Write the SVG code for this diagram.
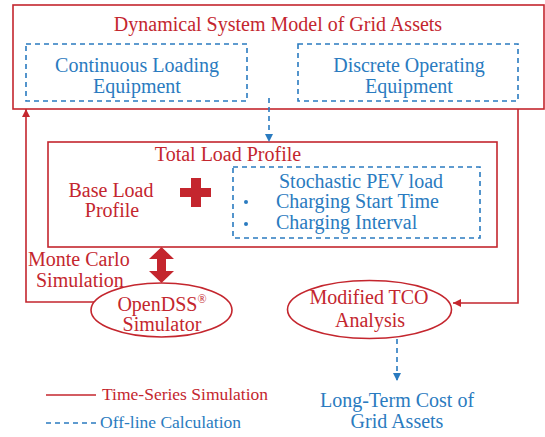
<svg xmlns="http://www.w3.org/2000/svg" width="545" height="437" viewBox="0 0 545 437">
<defs>
<style>
text{font-family:"Liberation Serif","Times New Roman",serif;font-size:20px}
.r{fill:#C4262E}
.b{fill:#2A7BC0}
.m{text-anchor:middle}
.rbox{fill:none;stroke:#C4262E;stroke-width:1.6}
.bbox{fill:none;stroke:#2A7BC0;stroke-width:1.6;stroke-dasharray:5,4}
.rline{fill:none;stroke:#C4262E;stroke-width:1.6}
.bline{fill:none;stroke:#2A7BC0;stroke-width:1.6;stroke-dasharray:5,4}
.leg{font-size:17.5px}
</style>
<marker id="ar" viewBox="0 0 10 10" refX="10" refY="5" markerWidth="8" markerHeight="8" markerUnits="userSpaceOnUse" orient="auto"><path d="M0,0 L10,5 L0,10 z" fill="#C4262E"/></marker>
<marker id="ab" viewBox="0 0 10 10" refX="10" refY="5" markerWidth="8" markerHeight="9" markerUnits="userSpaceOnUse" orient="auto"><path d="M0,0 L10,5 L0,10 z" fill="#2A7BC0"/></marker>
</defs>
<rect width="545" height="437" fill="#fff"/>

<g id="model">
<rect class="rbox" x="13" y="5" width="531" height="104"/>
<text class="r m" x="278" y="31">Dynamical System Model of Grid Assets</text>
</g>
<g id="continuous">
<rect class="bbox" x="26" y="44" width="221" height="57"/>
<text class="b m" x="137" y="72">Continuous Loading</text>
<text class="b m" x="137" y="93">Equipment</text>
</g>
<g id="discrete">
<rect class="bbox" x="298" y="44" width="220" height="57"/>
<text class="b m" x="409" y="72">Discrete Operating</text>
<text class="b m" x="409" y="93">Equipment</text>
</g>

<g id="total-load">
<rect class="rbox" x="48" y="142" width="449" height="105"/>
<text class="r m" x="228" y="161">Total Load Profile</text>
</g>
<g id="base-load">
<text class="r m" x="111" y="197">Base Load</text>
<text class="r m" x="112" y="217">Profile</text>
</g>
<g id="plus">
<path class="r" d="M191,178 H201 V188 H211 V197 H201 V207 H191 V197 H180 V188 H191 Z"/>
</g>
<g id="pev">
<rect class="bbox" x="233" y="167" width="247" height="71"/>
<text class="b m" x="361" y="188">Stochastic PEV load</text>
<circle class="b" cx="246" cy="202" r="2"/>
<circle class="b" cx="246" cy="224" r="2"/>
<text class="b" x="276" y="208">Charging Start Time</text>
<text class="b" x="276" y="229">Charging Interval</text>
</g>

<g id="opendss">
<ellipse class="rbox" cx="161.5" cy="310" rx="70.5" ry="27"/>
<text class="r m" x="162" y="311">OpenDSS<tspan font-size="12" dy="-8">®</tspan></text>
<text class="r m" x="162" y="331">Simulator</text>
</g>
<g id="tco">
<ellipse class="rbox" cx="369.5" cy="309.5" rx="82" ry="29"/>
<text class="r m" x="369" y="304">Modified TCO</text>
<text class="r m" x="370" y="327">Analysis</text>
</g>
<g id="long-term">
<text class="b m" x="397" y="407">Long-Term Cost of</text>
<text class="b m" x="397" y="428">Grid Assets</text>
</g>

<g id="connectors">
<path class="bline" d="M269,98 V142" marker-end="url(#ab)"/>
<path class="rline" d="M94,302 H26 V109" marker-end="url(#ar)"/>
<path class="rline" d="M518,109 V303 H453" marker-end="url(#ar)"/>
<path class="bline" d="M397,339 V381" marker-end="url(#ab)"/>
<polygon class="r" points="161.5,247 174,259 166,259 166,271 174,271 161.5,283 149,271 157,271 157,259 149,259"/>
<text class="r" x="28" y="266">Monte Carlo</text>
<text class="r" x="36" y="287">Simulation</text>
</g>

<g id="legend">
<path class="rline" d="M46,395 H96"/>
<text class="r leg" x="102" y="400">Time-Series Simulation</text>
<path class="bline" d="M46,423 H98"/>
<text class="b leg" x="100" y="428">Off-line Calculation</text>
</g>
</svg>
